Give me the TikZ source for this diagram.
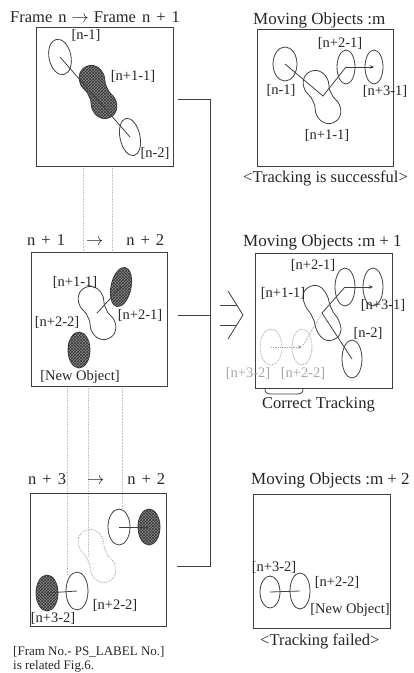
\documentclass[tikz,border=0pt]{standalone}
\usepackage{fontspec}
\setmainfont{Liberation Serif}
\usetikzlibrary{patterns,arrows.meta}
\newcommand{\plusgap}{\hspace{6pt}+\hspace{6pt}}
\newcommand{\mplusgap}{\hspace{4pt}+\hspace{4pt}}
\newcommand{\blobpath}{plot[smooth cycle, tension=0.75] coordinates {(-28,0) (-24,9) (-14,12.5) (-4,10) (4,10) (14,12.5) (24,9) (28,0) (24,-9) (14,-12.5) (4,-10) (-4,-10) (-14,-12.5) (-24,-9)}}
\newcommand{\capsulepath}{plot[smooth cycle, tension=0.75] coordinates {(-29,0) (-25,9) (-14,12) (-4,10.5) (4,10.5) (14,12) (25,9) (29,0) (25,-9) (14,-12) (4,-10.5) (-4,-10.5) (-14,-12) (-25,-9)}}
\begin{document}
\begin{tikzpicture}[x=1pt,y=-1pt,
  boxframe/.style={draw=black!75, line width=0.9pt, inner sep=0pt, anchor=north west},
  obj/.style={draw=black!75, line width=0.8pt},
  hatched/.style={obj, fill=black!45, postaction={pattern=crosshatch, pattern color=black!80}},
  ghost/.style={draw=black!38, line width=0.8pt, densely dotted},
  link/.style={draw=black!75, line width=0.8pt},
  arrowtip/.style={-{Stealth[length=4pt,width=3.5pt]}},
  guide/.style={draw=black!22, line width=0.5pt, densely dotted},
  lbl/.style={font=\fontsize{14.5}{16}\selectfont, text=black!85, inner sep=0pt},
  glbl/.style={lbl, text=black!35},
  ttl/.style={font=\fontsize{16.5}{19}\selectfont, text=black!85, inner sep=0pt, anchor=base west},
  mttl/.style={ttl, font=\fontsize{17}{19}\selectfont},
  captext/.style={font=\fontsize{16.5}{20}\selectfont, text=black!85, inner sep=0pt, anchor=base west},
  notetext/.style={font=\fontsize{13}{14}\selectfont, text=black!85, inner sep=0pt, anchor=base west}]
\useasboundingbox (0,0) rectangle (413,673);

% guide lines
\coordinate (g1a) at (83,166); \coordinate (g1b) at (83,252);
\coordinate (g2a) at (112,166); \coordinate (g2b) at (112,252);
\coordinate (g3a) at (67,386); \coordinate (g3b) at (67,575);
\coordinate (g4a) at (88,386); \coordinate (g4b) at (88,556);
\coordinate (g5a) at (122,386); \coordinate (g5b) at (122,509);
\draw[guide] (g1a) -- (g1b);
\draw[guide] (g2a) -- (g2b);
\draw[guide] (g3a) -- (g3b);
\draw[guide] (g4a) -- (g4b);
\draw[guide] (g5a) -- (g5b);

% frames
\node[boxframe, minimum width=137pt, minimum height=139pt] (boxTL) at (36,27) {};
\node[boxframe, minimum width=136pt, minimum height=137pt] (boxTR) at (257,29) {};
\node[boxframe, minimum width=136pt, minimum height=134pt] (boxML) at (31,252) {};
\node[boxframe, minimum width=137pt, minimum height=135pt] (boxMR) at (255,253) {};
\node[boxframe, minimum width=136pt, minimum height=133pt] (boxBL) at (30,493) {};
\node[boxframe, minimum width=137pt, minimum height=134pt] (boxBR) at (253,494) {};

% titles
\node[ttl] (t1) at (10,22) {Frame\hspace{6pt}n\hspace{5pt}$\rightarrow$\hspace{5pt}Frame\hspace{6pt}n\plusgap 1};
\node[ttl] (t2) at (27,245) {n\plusgap 1\hspace{21pt}$\rightarrow$\hspace{23pt}n\plusgap 2};
\node[ttl] (t3) at (28,484) {n\plusgap 3\hspace{21pt}$\rightarrow$\hspace{23pt}n\plusgap 2};
\node[mttl] (t4) at (253,24) {Moving Objects :m};
\node[mttl] (t5) at (243,246) {Moving Objects :m\mplusgap 1};
\node[mttl] (t6) at (251,484) {Moving Objects :m\mplusgap 2};
\node[captext] (c1) at (243,182) {<Tracking is successful>};
\node[ttl] (c2) at (262,408) {Correct Tracking};
\node[captext] (c3) at (260,645) {<Tracking failed>};
\node[notetext] (n1) at (13,655) {[Fram No.- PS\_LABEL No.]};
\node[notetext] (n2) at (13,669) {is related Fig.6.};

% bracket connector and implication sign
\coordinate (k1) at (178,99);  \coordinate (k2) at (210,99);
\coordinate (k3) at (178,315); \coordinate (k4) at (210,315);
\coordinate (k5) at (177,566); \coordinate (k6) at (210,566);
\draw[link] (k1) -- (k2) -- (k6) -- (k5);
\draw[link] (k3) -- (k4);
\draw[link] (228,291) -- (243,315) -- (228,339);
\draw[link] (220,305) -- (236.75,305);
\draw[link] (220,325) -- (236.75,325);

% ---- top left
\coordinate (a1) at (60,57);
\coordinate (a2) at (98,92);
\coordinate (a3) at (130,137);
\draw[obj, rotate around={12:(a1)}] (a1) ellipse [x radius=11pt, y radius=18pt];
\draw[obj, rotate around={12:(a3)}] (a3) ellipse [x radius=10pt, y radius=19pt];
\draw[hatched, shift={(a2)}, rotate=-65] \blobpath;
\draw[link] (a1) -- (a3);
\node[lbl] (l1) at (86,35) {[n-1]};
\node[lbl] (l2) at (133,76) {[n+1-1]};
\node[lbl] (l3) at (155,153) {[n-2]};

% ---- top right
\coordinate (b1) at (285,64);
\coordinate (b2) at (323,96);
\coordinate (b3) at (346,67);
\coordinate (b4) at (374,67);
\draw[obj] (b1) ellipse [x radius=12pt, y radius=17pt];
\draw[obj, shift={(322,97)}, rotate=-65] \blobpath;
\draw[obj] (b3) ellipse [x radius=9pt, y radius=17pt];
\draw[obj] (b4) ellipse [x radius=9pt, y radius=17pt];
\draw[link] (b1) -- (b2) -- (b3);
\draw[link, arrowtip] (b3) -- (b4);
\node[lbl] (l4) at (340,43) {[n+2-1]};
\node[lbl] (l5) at (281,90) {[n-1]};
\node[lbl] (l6) at (385,91) {[n+3-1]};
\node[lbl] (l7) at (327,135) {[n+1-1]};

% ---- middle left
\coordinate (c1o) at (121,287);
\coordinate (c2o) at (97,313);
\coordinate (c3o) at (79,350);
\draw[hatched, rotate around={-12:(c1o)}] (c1o) ellipse [x radius=10pt, y radius=20pt];
\draw[obj, shift={(c2o)}, rotate=-65] \blobpath;
\draw[hatched] (c3o) ellipse [x radius=11pt, y radius=18pt];
\draw[link] (c2o) -- (c1o);
\node[lbl] (l8) at (75,282) {[n+1-1]};
\node[lbl] (l9) at (140,315) {[n+2-1]};
\node[lbl] (l10) at (57,322) {[n+2-2]};
\node[lbl] (l11) at (80,377) {[New Object]};

% ---- middle right
\coordinate (d1) at (345,287);
\coordinate (d2) at (373,287);
\coordinate (d3) at (322,313);
\coordinate (d4) at (352,359);
\coordinate (d5) at (271,347);
\coordinate (d6) at (302,347);
\draw[obj] (d1) ellipse [x radius=10pt, y radius=19pt];
\draw[obj] (d2) ellipse [x radius=10pt, y radius=19pt];
\draw[obj, shift={(d3)}, rotate=-65] \capsulepath;
\draw[obj] (d4) ellipse [x radius=10pt, y radius=19pt];
\draw[ghost] (d5) ellipse [x radius=11pt, y radius=18pt];
\draw[ghost] (d6) ellipse [x radius=10pt, y radius=18pt];
\draw[link, arrowtip] (d1) -- (d2);
\draw[link] (d1) -- (d3) -- (d4);
\draw[ghost] (d3) -- (d6);
\draw[ghost, arrowtip] (d5) -- (d6);
\node[lbl] (l12) at (313,265) {[n+2-1]};
\node[lbl] (l13) at (283,293) {[n+1-1]};
\node[lbl] (l14) at (383,305) {[n+3-1]};
\node[lbl] (l15) at (368,333) {[n-2]};
\node[glbl] (l16) at (248,373) {[n+3-2]};
\node[glbl] (l17) at (303,373) {[n+2-2]};
\coordinate (u1) at (265,389);
\coordinate (u2) at (303,389);
\draw[link] (u1) .. controls (265,393) and (267,394) .. (272,394) -- (296,394) .. controls (301,394) and (303,393) .. (u2);

% ---- bottom left
\coordinate (e1) at (119,527);
\coordinate (e2) at (149,527);
\coordinate (e3) at (97,556);
\coordinate (e4) at (47,593);
\coordinate (e5) at (77,591);
\draw[obj] (e1) ellipse [x radius=11pt, y radius=18pt];
\draw[hatched] (e2) ellipse [x radius=11pt, y radius=18pt];
\draw[ghost, shift={(e3)}, rotate=-65] \blobpath;
\draw[hatched] (e4) ellipse [x radius=11pt, y radius=18pt];
\draw[obj] (e5) ellipse [x radius=11pt, y radius=19pt];
\draw[link] (e1) -- (e2);
\draw[link] (e4) -- (e5);
\node[lbl] (l18) at (115,605) {[n+2-2]};
\node[lbl] (l19) at (53,618) {[n+3-2]};

% ---- bottom right
\coordinate (f1) at (270,592);
\coordinate (f2) at (300,591);
\draw[obj] (f1) ellipse [x radius=10pt, y radius=16pt];
\draw[obj] (f2) ellipse [x radius=10pt, y radius=18pt];
\draw[link] (f1) -- (f2);
\node[lbl] (l20) at (274,567) {[n+3-2]};
\node[lbl] (l21) at (337,582) {[n+2-2]};
\node[lbl] (l22) at (350,610) {[New Object]};
\end{tikzpicture}
\end{document}
